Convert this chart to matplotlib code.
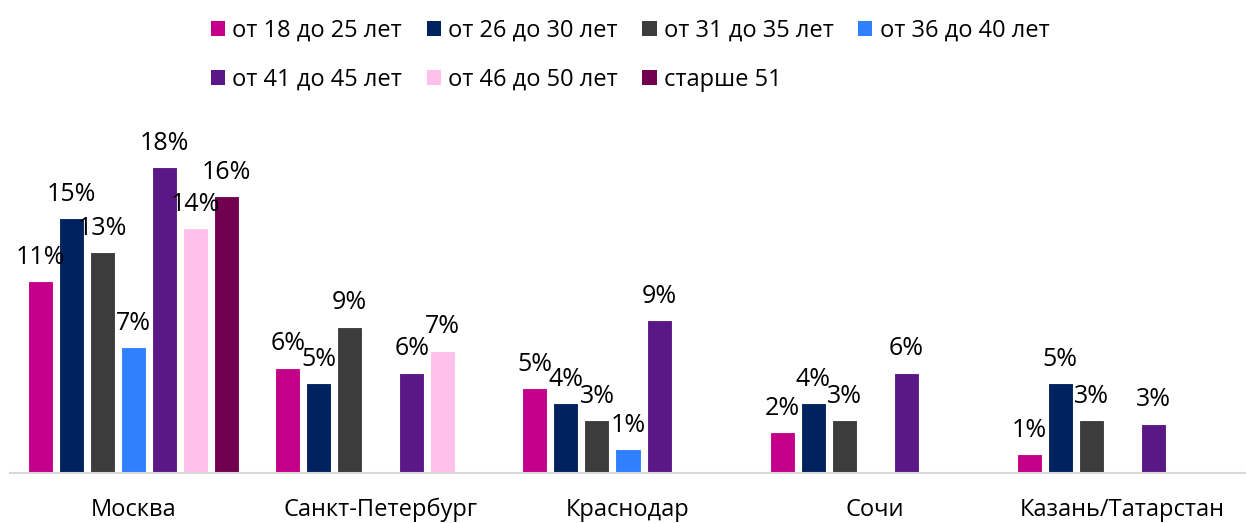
import matplotlib
matplotlib.use("Agg")
import matplotlib.pyplot as plt
from matplotlib.patches import Patch
import numpy as np

plt.rcParams['font.family'] = ['Open Sans', 'DejaVu Sans']

categories = ['Москва', 'Санкт-Петербург', 'Краснодар', 'Сочи', 'Казань/Татарстан']
series_names = ['от 18 до 25 лет', 'от 26 до 30 лет', 'от 31 до 35 лет', 'от 36 до 40 лет',
                'от 41 до 45 лет', 'от 46 до 50 лет', 'старше 51']
s18_25 = [11.3, 6.2, 5.0, 2.4, 1.1]
s26_30 = [15.0, 5.3, 4.1, 4.1, 5.3]
s31_35 = [13.0, 8.6, 3.1, 3.1, 3.1]
s36_40 = [7.4, 0, 1.4, 0, 0]
s41_45 = [18.0, 5.9, 9.0, 5.9, 2.9]
s46_50 = [14.4, 7.2, 0, 0, 0]
s51 = [16.3, 0, 0, 0, 0]
series = [s18_25, s26_30, s31_35, s36_40, s41_45, s46_50, s51]
colors = ['#C4008A', '#002360', '#3C3C3C', '#2F80FF', '#5A1886', '#FFC0EB', '#720050']

W, H = 1246, 523
fig = plt.figure(figsize=(W / 100, H / 100), dpi=100)
ax = fig.add_axes([10 / W, 50 / H, 1 - 10 / W, 340 / H])

x = np.arange(len(categories))
step = 31 / 247
width = 25 / 247
for i, (vals, col) in enumerate(zip(series, colors)):
    off = (i - 3) * step
    for xi, v in zip(x, vals):
        if v <= 0:
            continue
        ax.bar(xi + off, v, width=width, color=col, edgecolor='white', linewidth=0.8)
        ax.annotate(f"{v:.0f}%", (xi + off, v), xytext=(0, 12.5), textcoords='offset points',
                    ha='center', va='baseline', fontsize=18, color='black')

ax.set_xlim(-0.5, len(categories) - 0.5)
ax.set_ylim(0, 20)
ax.set_xticks(x)
ax.set_xticklabels(categories, fontsize=17)
ax.tick_params(axis='x', length=0, pad=18)
ax.set_yticks([])
for s in ['top', 'right', 'left']:
    ax.spines[s].set_visible(False)
ax.spines['bottom'].set_color('#D9D9D9')
ax.spines['bottom'].set_linewidth(1.5)

order = [0, 4, 1, 5, 2, 6, 3]
handles = [Patch(facecolor=colors[k], edgecolor='none') for k in order]
labels = [series_names[k] for k in order]
fig.legend(handles, labels, ncol=4, loc='upper center', bbox_to_anchor=(630 / W, 1.0),
           frameon=False, fontsize=17, handlelength=0.6, handleheight=0.6,
           handletextpad=0.3, columnspacing=1.05, labelspacing=1.05, borderaxespad=0.4)

fig.savefig('out.png', dpi=100)
